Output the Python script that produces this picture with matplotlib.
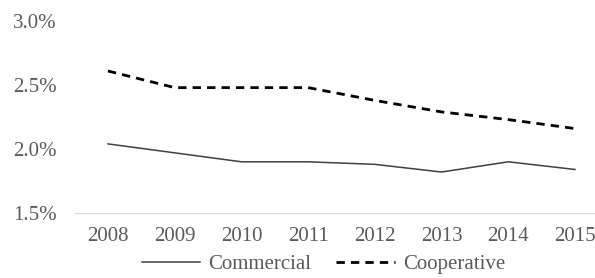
import matplotlib.pyplot as plt
from matplotlib.ticker import FuncFormatter

years = ['2008', '2009', '2010', '2011', '2012', '2013', '2014', '2015']
commercial = [2.04, 1.97, 1.90, 1.90, 1.88, 1.82, 1.90, 1.84]
cooperative = [2.61, 2.48, 2.48, 2.48, 2.38, 2.29, 2.23, 2.16]

plt.rcParams['font.family'] = ['Liberation Serif', 'DejaVu Serif']
grey = '#595959'

fig = plt.figure(figsize=(5.95, 2.78), dpi=100)
ax = fig.add_axes([0.126, 0.234, 0.874, 0.69])

x = range(len(years))
ax.plot(x, commercial, color='#404040', lw=1.1, label='Commercial')
ax.plot(x, cooperative, color='black', lw=2, ls=(0, (3, 2.2)), label='Cooperative')

ax.set_ylim(1.5, 3.0)
ax.set_yticks([1.5, 2.0, 2.5, 3.0])
ax.yaxis.set_major_formatter(FuncFormatter(lambda v, p: f'{v:.1f}%'))
ax.set_xlim(-0.495, 7.3)
ax.set_xticks(list(x))
ax.set_xticklabels(years)

for s in ['top', 'right', 'left']:
    ax.spines[s].set_visible(False)
ax.spines['bottom'].set_color('#d9d9d9')
ax.tick_params(length=0, labelsize=15, colors=grey, pad=10)
ax.tick_params(axis='y', pad=13)

ax.legend(loc='lower center', bbox_to_anchor=(0.478, -0.395), ncol=2, frameon=False,
          fontsize=15, labelcolor=grey, handlelength=2.8, columnspacing=1.2,
          handletextpad=0.4, borderpad=0.2)

fig.savefig('out.png', dpi=100)
